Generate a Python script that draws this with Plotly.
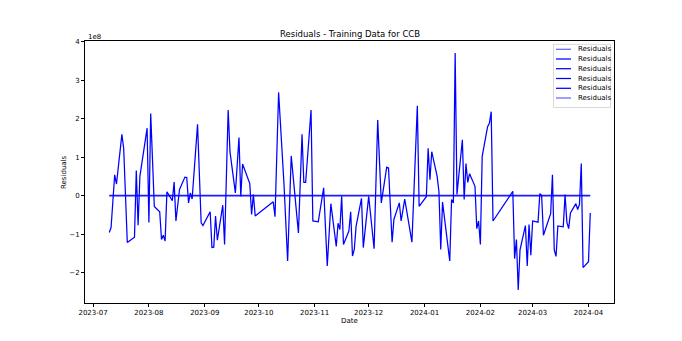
import plotly.graph_objects as go

# ---- data (residuals in units of 1e8) ----
dates = [
    "2023-07-10", "2023-07-11", "2023-07-13", "2023-07-14", "2023-07-17", "2023-07-18",
    "2023-07-20", "2023-07-24", "2023-07-25", "2023-07-26", "2023-07-27", "2023-07-31",
    "2023-08-01", "2023-08-02", "2023-08-04", "2023-08-07", "2023-08-08", "2023-08-09",
    "2023-08-10", "2023-08-11", "2023-08-14", "2023-08-15", "2023-08-16", "2023-08-18",
    "2023-08-21", "2023-08-22", "2023-08-23", "2023-08-24", "2023-08-25", "2023-08-28",
    "2023-08-30", "2023-08-31", "2023-09-04", "2023-09-05", "2023-09-06", "2023-09-07",
    "2023-09-08", "2023-09-11", "2023-09-12", "2023-09-14", "2023-09-15", "2023-09-18",
    "2023-09-20", "2023-09-21", "2023-09-22", "2023-09-25", "2023-09-26", "2023-09-27",
    "2023-09-28", "2023-09-29", "2023-10-09", "2023-10-10", "2023-10-12", "2023-10-15",
    "2023-10-17", "2023-10-19", "2023-10-21", "2023-10-23", "2023-10-25", "2023-10-26",
    "2023-10-27", "2023-10-30", "2023-10-31", "2023-11-01", "2023-11-03", "2023-11-06",
    "2023-11-08", "2023-11-10", "2023-11-13", "2023-11-14", "2023-11-15", "2023-11-16",
    "2023-11-17", "2023-11-20", "2023-11-21", "2023-11-22", "2023-11-23", "2023-11-24",
    "2023-11-27", "2023-11-28", "2023-12-01", "2023-12-04", "2023-12-06", "2023-12-08",
    "2023-12-11", "2023-12-12", "2023-12-14", "2023-12-15", "2023-12-18", "2023-12-19",
    "2023-12-21", "2023-12-25", "2023-12-28", "2023-12-29", "2024-01-02", "2024-01-03",
    "2024-01-04", "2024-01-05", "2024-01-08", "2024-01-09", "2024-01-10", "2024-01-11",
    "2024-01-15", "2024-01-16", "2024-01-17", "2024-01-18", "2024-01-19", "2024-01-22",
    "2024-01-23", "2024-01-24", "2024-01-25", "2024-01-26", "2024-01-29", "2024-01-30",
    "2024-01-31", "2024-02-01", "2024-02-02", "2024-02-05", "2024-02-06", "2024-02-07",
    "2024-02-08", "2024-02-19", "2024-02-20", "2024-02-21", "2024-02-22", "2024-02-23",
    "2024-02-26", "2024-02-27", "2024-02-28", "2024-02-29", "2024-03-01", "2024-03-04",
    "2024-03-05", "2024-03-06", "2024-03-07", "2024-03-11", "2024-03-12", "2024-03-13",
    "2024-03-14", "2024-03-15", "2024-03-18", "2024-03-19", "2024-03-20", "2024-03-21",
    "2024-03-22", "2024-03-25", "2024-03-26", "2024-03-27", "2024-03-28", "2024-03-29",
    "2024-04-01", "2024-04-02",
]
residuals_1e8 = [
    -0.96, -0.83, 0.54, 0.30, 1.59, 1.23,
    -1.22, -1.08, 0.65, -0.77, 0.50, 1.75,
    -0.70, 2.13, -0.28, -0.42, -1.14, -1.03,
    -1.18, 0.10, -0.13, 0.35, -0.66, 0.16,
    0.48, 0.47, -0.19, 0.07, -0.09, 1.85,
    -0.71, -0.78, -0.42, -1.35, -1.34, -0.53,
    -1.16, -0.25, -1.27, 2.22, 1.14, 0.07,
    1.51, -0.02, 0.82, 0.46, 0.31, -0.49,
    0.03, -0.53, -0.16, -0.55, 2.68, 0.28,
    -1.70, 1.03, 0.03, -0.97, 1.59, 0.34,
    0.34, 2.22, -0.66, -0.67, -0.68, 0.20,
    -1.83, -0.21, -1.32, -0.72, -0.88, -0.02,
    -1.27, -0.92, -0.42, -1.57, -1.40, -0.80,
    -0.07, -1.35, -0.02, -1.38, 1.96, -0.19,
    0.74, 0.72, -1.21, -0.62, -0.19, -0.66,
    -0.09, -1.21, 2.33, -0.28, -0.03, 1.23,
    0.41, 1.14, 0.50, 0.10, -1.40, -0.17,
    -1.70, -0.10, -0.19, 3.70, 0.03, 1.45,
    -0.10, 0.83, 0.34, 0.57, 0.24, -0.86,
    -0.66, -1.27, 1.02, 1.79, 1.88, 2.18,
    -0.66, 0.11, -1.64, -1.14, -2.45, -1.41,
    -0.78, -1.83, -0.75, -1.55, -0.66, -0.69,
    0.05, 0.00, -1.03, -0.47, 0.54, -1.41,
    -1.58, -0.79, -0.81, 0.03, -0.69, -0.86,
    -0.45, -0.21, -0.36, -0.23, 0.83, -1.87,
    -1.72, -0.45,
]
zero_level = [0.0, 0.0]
legend_labels = ["Residuals"] * 6
y_ticks = [-2, -1, 0, 1, 2, 3, 4]
y_tick_text = ["\u22122", "\u22121", "0", "1", "2", "3", "4"]
scale = 1e8

W, H = 682, 341
ML, MR, MT, MB = 85, 68, 41, 38
PW, PH = W - ML - MR, H - MT - MB


def fx(px):
    return (px - ML) / PW


def fy(py):
    return (H - MB - py) / PH


FONT = "DejaVu Sans"
BLUE = "#0000ff"

fig = go.Figure()
fig.add_trace(go.Scatter(
    x=[dates[0], dates[-1]], y=[v * scale for v in zero_level], mode="lines",
    line=dict(color="#1a1aff", width=1.6), name="Residuals", showlegend=False,
))
fig.add_trace(go.Scatter(
    x=dates, y=[v * scale for v in residuals_1e8], mode="lines",
    line=dict(color=BLUE, width=1.25), name="Residuals", showlegend=False,
))

shapes = []
annotations = []

# custom legend (matplotlib style)
shapes.append(dict(type="rect", xref="paper", yref="paper",
                   x0=fx(553.5), x1=fx(610.5), y0=fy(107.5), y1=fy(44.3),
                   line=dict(color="#d9d9d9", width=1), fillcolor="rgba(255,255,255,0.8)"))
entry_y = [49.3, 59.0, 68.7, 78.5, 88.3, 98.0]
for i, (lab, ey) in enumerate(zip(legend_labels, entry_y)):
    op = 0.6 if i in (0, 5) else 1.0
    shapes.append(dict(type="line", xref="paper", yref="paper",
                       x0=fx(556), x1=fx(571), y0=fy(ey), y1=fy(ey),
                       line=dict(color=BLUE, width=1.25), opacity=op))
    annotations.append(dict(text=lab, xref="paper", yref="paper", x=fx(576), y=fy(ey),
                            xanchor="left", yanchor="middle", showarrow=False,
                            font=dict(family=FONT, size=7, color="#000")))

# title, axis labels, offset text
annotations.append(dict(text="Residuals - Training Data for CCB", xref="paper", yref="paper",
                        x=0.5, y=fy(34), xanchor="center", yanchor="middle", showarrow=False,
                        font=dict(family=FONT, size=8.5, color="#000")))
annotations.append(dict(text="Date", xref="paper", yref="paper",
                        x=0.5, y=fy(321), xanchor="center", yanchor="middle", showarrow=False,
                        font=dict(family=FONT, size=7, color="#000")))
annotations.append(dict(text="Residuals", xref="paper", yref="paper",
                        x=fx(64), y=fy(172), xanchor="center", yanchor="middle", showarrow=False,
                        textangle=-90, font=dict(family=FONT, size=7, color="#000")))
annotations.append(dict(text="1e8", xref="paper", yref="paper",
                        x=fx(86), y=fy(36.5), xanchor="left", yanchor="middle", showarrow=False,
                        font=dict(family=FONT, size=7, color="#000")))

fig.update_layout(
    width=W, height=H,
    margin=dict(l=ML, r=MR, t=MT, b=MB),
    paper_bgcolor="white", plot_bgcolor="white",
    showlegend=False,
    shapes=shapes, annotations=annotations,
    font=dict(family=FONT, size=7, color="#000"),
)
fig.update_xaxes(
    type="date", range=["2023-06-26 12:40", "2024-04-15 04:00"],
    tick0="2023-07-01", dtick="M1", tickformat="%Y-%m",
    showgrid=False, zeroline=False,
    showline=True, mirror=True, linecolor="#000", linewidth=0.8,
    ticks="outside", ticklen=3, tickwidth=0.8, tickcolor="#000",
    tickfont=dict(family=FONT, size=7, color="#000"),
)
fig.update_yaxes(
    range=[-2.79 * scale, 4.015 * scale],
    tickvals=[t * scale for t in y_ticks], ticktext=y_tick_text,
    showgrid=False, zeroline=False,
    showline=True, mirror=True, linecolor="#000", linewidth=0.8,
    ticks="outside", ticklen=3, tickwidth=0.8, tickcolor="#000",
    tickfont=dict(family=FONT, size=7, color="#000"),
)

fig.write_html("out.html")
